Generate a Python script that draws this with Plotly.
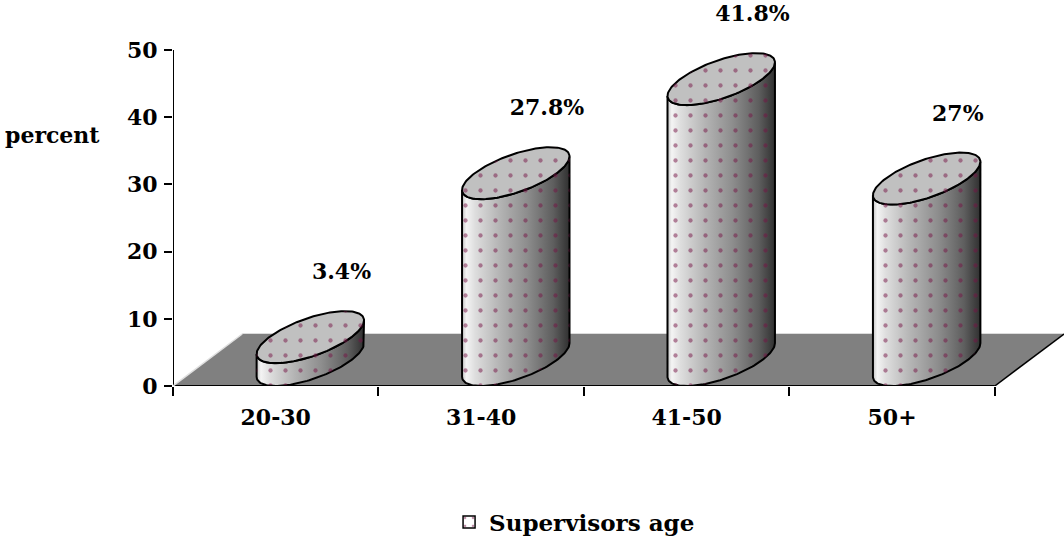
import numpy as np
import plotly.graph_objects as go

# ---- data ----
categories = ["20-30", "31-40", "41-50", "50+"]
values = [3.4, 27.8, 41.8, 27]
y_ticks = [0, 10, 20, 30, 40, 50]
series_name = "Supervisors age"
y_title = "percent"

# ---- styling / 3D geometry (in axis units) ----
DEPTH_X = 0.337      # floor depth along x (category units)
DEPTH_Y = 7.74       # floor depth along y (value units)
RAD_X = 0.20         # cylinder radius along x (category units)
HX, HY = DEPTH_X / 2, DEPTH_Y / 2
DOT = "#761446"
FONT = dict(family="DejaVu Serif", size=22, color="black", weight="bold")

n = len(categories)
x_lo, x_hi = -0.5, n - 0.5
y_max = 57

fig = go.Figure()

# floor
fig.add_trace(go.Scatter(
    x=[x_lo, x_hi, x_hi + DEPTH_X, x_lo + DEPTH_X, x_lo],
    y=[0, 0, DEPTH_Y, DEPTH_Y, 0],
    mode="lines", fill="toself", fillcolor="#808080",
    line=dict(width=0), hoverinfo="skip", showlegend=False))

th_r = np.arctan2(HX, RAD_X)


def ell(cx, cy, t):
    return cx + RAD_X * np.cos(t) + HX * np.sin(t), cy + HY * np.sin(t)


grad = [[0, "#c4c4c4"], [0.04, "#f4f4f4"], [0.12, "#dedede"], [0.35, "#b4b4b4"],
        [0.6, "#8e8e8e"], [0.85, "#5e5e5e"], [1, "#303030"]]

for i, v in enumerate(values):
    cx = i + HX
    cb = HY
    ct = v + HY
    t_front = np.linspace(th_r - np.pi, th_r, 80)
    t_back = np.linspace(th_r + np.pi, th_r, 80)
    tx, ty = ell(cx, ct, t_front)
    bx, by = ell(cx, cb, t_front[::-1])
    body_x = np.concatenate([tx, bx, tx[:1]])
    body_y = np.concatenate([ty, by, ty[:1]])
    xl, xr = body_x.min(), body_x.max()
    fig.add_trace(go.Scatter(
        x=body_x, y=body_y, mode="lines", fill="toself",
        fillgradient=dict(type="horizontal", colorscale=grad, start=xl, stop=xr),
        line=dict(color="black", width=2), hoverinfo="skip", showlegend=False))
    t_all = np.linspace(0, 2 * np.pi, 160)
    ex, ey = ell(cx, ct, t_all)
    fig.add_trace(go.Scatter(
        x=ex, y=ey, mode="lines", fill="toself", fillcolor="#c0c0c0",
        line=dict(color="black", width=2), hoverinfo="skip", showlegend=False))
    # dotted pattern over the whole silhouette
    kx, ky = ell(cx, ct, t_back)
    sx = np.concatenate([kx, bx, kx[:1]])
    sy = np.concatenate([ky, by, ky[:1]])
    fig.add_trace(go.Scatter(
        x=sx, y=sy, mode="lines", fill="toself", fillcolor="rgba(0,0,0,0)",
        fillpattern=dict(shape=".", fgcolor=DOT, bgcolor="rgba(0,0,0,0)",
                         size=15, solidity=0.065),
        line=dict(width=0), hoverinfo="skip", showlegend=False))

# data labels
fig.add_trace(go.Scatter(
    x=[i + DEPTH_X * 0.95 for i in range(n)],
    y=[v + 13.3 for v in values],
    text=[f"{v:g}%" for v in values], mode="text",
    textfont=FONT, xaxis="x2", hoverinfo="skip", showlegend=False))

# legend entry
fig.add_trace(go.Bar(
    x=[None], y=[None], name=series_name,
    marker=dict(color="white", line=dict(color="black", width=1.5),
                pattern=dict(shape=".", fgcolor=DOT, size=12, solidity=0.08))))

# axis lines and floor edges
fig.add_shape(type="line", x0=x_lo, y0=0, x1=x_lo, y1=y_ticks[-1],
              line=dict(color="black", width=2))
fig.add_shape(type="line", x0=x_lo, y0=0, x1=x_hi, y1=0,
              line=dict(color="black", width=2))
fig.add_shape(type="line", x0=x_hi, y0=0, x1=x_hi + DEPTH_X, y1=DEPTH_Y,
              line=dict(color="black", width=1.5))
fig.add_shape(type="line", x0=x_lo + DEPTH_X, y0=DEPTH_Y, x1=x_hi + DEPTH_X, y1=DEPTH_Y,
              line=dict(color="#d0d0d0", width=1.5), layer="below")
fig.add_shape(type="line", x0=x_lo, y0=0, x1=x_lo + DEPTH_X, y1=DEPTH_Y,
              line=dict(color="#e0e0e0", width=1.5))

fig.add_annotation(text=y_title, xref="paper", yref="y", x=-0.135, y=37.3,
                   xanchor="center", yanchor="middle", showarrow=False, font=FONT)

fig.update_layout(
    width=1064, height=542,
    margin=dict(l=173, r=0, t=3, b=156),
    paper_bgcolor="white", plot_bgcolor="white",
    xaxis=dict(range=[x_lo, x_hi + DEPTH_X], tickvals=[x_lo + k for k in range(n + 1)],
               showticklabels=False, ticks="outside", ticklen=9, tickwidth=2,
               tickcolor="black", showgrid=False, zeroline=False, showline=False),
    xaxis2=dict(range=[x_lo, x_hi + DEPTH_X], overlaying="x", anchor="y", side="bottom",
                tickvals=list(range(n)), ticktext=categories, ticks="",
                ticklabelstandoff=16, tickfont=FONT, showgrid=False,
                zeroline=False, showline=False),
    yaxis=dict(range=[0, y_max], tickvals=y_ticks, ticks="outside", ticklen=8,
               tickwidth=2, tickcolor="black", tickfont=FONT, ticklabelstandoff=2,
               showgrid=False, zeroline=False, showline=False),
    legend=dict(xref="container", yref="container", x=0.54, y=0.037,
                xanchor="center", yanchor="middle", orientation="h",
                font=dict(family="DejaVu Serif", size=23, color="black", weight="bold")),
    showlegend=True,
)

fig.write_html("out.html", config={"displayModeBar": False},
               post_script="document.body.style.margin='0px';")
